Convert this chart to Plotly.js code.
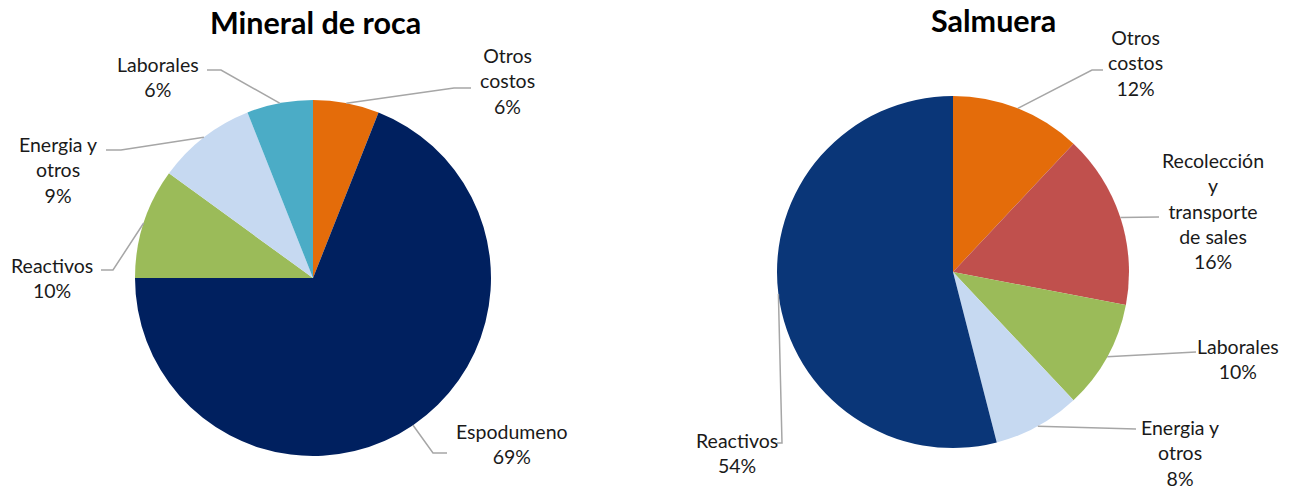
<!DOCTYPE html>
<html>
<head>
<meta charset="utf-8">
<script src="https://cdn.plot.ly/plotly-3.0.1.min.js"></script>
<style>
html,body{margin:0;padding:0;background:#fff;}
#chart{width:1298px;height:493px;}
</style>
</head>
<body>
<div id="chart"></div>
<script>
// ---- Data ----
const rocaTitle = "Mineral de roca";
const rocaCategories = ["Otros costos", "Espodumeno", "Reactivos", "Energia y otros", "Laborales"];
const rocaValues = [6, 69, 10, 9, 6];

const salmueraTitle = "Salmuera";
const salmueraCategories = ["Otros costos", "Recolección y transporte de sales", "Laborales", "Energia y otros", "Reactivos"];
const salmueraValues = [12, 16, 10, 8, 54];

// ---- Style ----
const W = 1298, H = 493;
const FONT = "Lato, 'Open Sans', sans-serif";
const wrapMap = {
  "Otros costos": "Otros<br>costos",
  "Energia y otros": "Energia y<br>otros",
  "Recolección y transporte de sales": "Recolección<br>y<br>transporte<br>de sales"
};
const rocaColors = ["#E46C0A", "#00205F", "#9BBB59", "#C6D9F1", "#4BACC6"];
const salmueraColors = ["#E46C0A", "#C0504D", "#9BBB59", "#C6D9F1", "#0A3678"];

// pie geometry in pixels
const rocaGeom = {cx: 313, cy: 278, r: 178};
const salGeom = {cx: 953, cy: 272, r: 176};

// label placement (pixel centre of text block, elbow and end of leader line)
const rocaLabelPos = [
  {tx: 507, ty: 81, ex: 454, ey: 88, fx: 471, fy: 88},
  {tx: 512, ty: 444, ex: 433, ey: 453, fx: 447, fy: 453},
  {tx: 52, ty: 278, ex: 113, ey: 270, fx: 101, fy: 270},
  {tx: 58, ty: 170, ex: 121, ey: 150, fx: 106, fy: 150},
  {tx: 158, ty: 77, ex: 221, ey: 70, fx: 207, fy: 70}
];
const salLabelPos = [
  {tx: 1135, ty: 63, ex: 1092, ey: 70, fx: 1103, fy: 70},
  {tx: 1213, ty: 211, ex: 1159, ey: 217, fx: 1159, fy: 217},
  {tx: 1238, ty: 359, ex: 1196, ey: 352, fx: 1196, fy: 352},
  {tx: 1180, ty: 453, ex: 1136, ey: 429, fx: 1136, fy: 429},
  {tx: 737, ty: 453, ex: 782, ey: 443, fx: 777, fy: 443}
];

function px2x(p){ return p / W; }
function py2y(p){ return 1 - p / H; }

function domainOf(g){
  return {x: [px2x(g.cx - g.r), px2x(g.cx + g.r)], y: [py2y(g.cy + g.r), py2y(g.cy - g.r)]};
}

function pieTrace(cats, vals, colors, g){
  return {
    type: "pie",
    labels: cats,
    values: vals,
    sort: false,
    direction: "clockwise",
    rotation: 0,
    textinfo: "none",
    hoverinfo: "label+percent",
    marker: {colors: colors, line: {width: 0}},
    domain: domainOf(g),
    showlegend: false
  };
}

const shapes = [];
const annotations = [];

function addLabels(cats, vals, g, pos){
  const total = vals.reduce((a, b) => a + b, 0);
  let cum = 0;
  cats.forEach((c, i) => {
    const mid = (cum + vals[i] / 2) / total;
    cum += vals[i];
    const th = 2 * Math.PI * mid;
    const ax = g.cx + g.r * Math.sin(th);
    const ay = g.cy - g.r * Math.cos(th);
    const p = pos[i];
    shapes.push({
      type: "path", xref: "paper", yref: "paper",
      path: `M ${px2x(ax)} ${py2y(ay)} L ${px2x(p.ex)} ${py2y(p.ey)} L ${px2x(p.fx)} ${py2y(p.fy)}`,
      line: {color: "#A6A6A6", width: 1.5}
    });
    const pct = Math.round(vals[i] / total * 100);
    annotations.push({
      xref: "paper", yref: "paper",
      x: px2x(p.tx), y: py2y(p.ty),
      xanchor: "center", yanchor: "middle",
      showarrow: false, align: "center", borderpad: 0,
      text: (wrapMap[c] || c) + "<br>" + pct + "%",
      font: {family: FONT, size: 19.5, color: "#1a1a1a"}
    });
  });
}

addLabels(rocaCategories, rocaValues, rocaGeom, rocaLabelPos);
addLabels(salmueraCategories, salmueraValues, salGeom, salLabelPos);

annotations.push({
  xref: "paper", yref: "paper", x: px2x(315), y: py2y(22),
  xanchor: "center", yanchor: "middle", showarrow: false, borderpad: 0,
  text: "<b>" + rocaTitle + "</b>",
  font: {family: FONT, size: 30.5, color: "#000"}
});
annotations.push({
  xref: "paper", yref: "paper", x: px2x(993), y: py2y(20),
  xanchor: "center", yanchor: "middle", showarrow: false, borderpad: 0,
  text: "<b>" + salmueraTitle + "</b>",
  font: {family: FONT, size: 30.5, color: "#000"}
});

const layout = {
  width: W, height: H,
  margin: {l: 0, r: 0, t: 0, b: 0},
  paper_bgcolor: "#fff",
  shapes: shapes,
  annotations: annotations,
  showlegend: false
};

Plotly.newPlot("chart", [
  pieTrace(rocaCategories, rocaValues, rocaColors, rocaGeom),
  pieTrace(salmueraCategories, salmueraValues, salmueraColors, salGeom)
], layout, {displayModeBar: false, staticPlot: true});
</script>
</body>
</html>
